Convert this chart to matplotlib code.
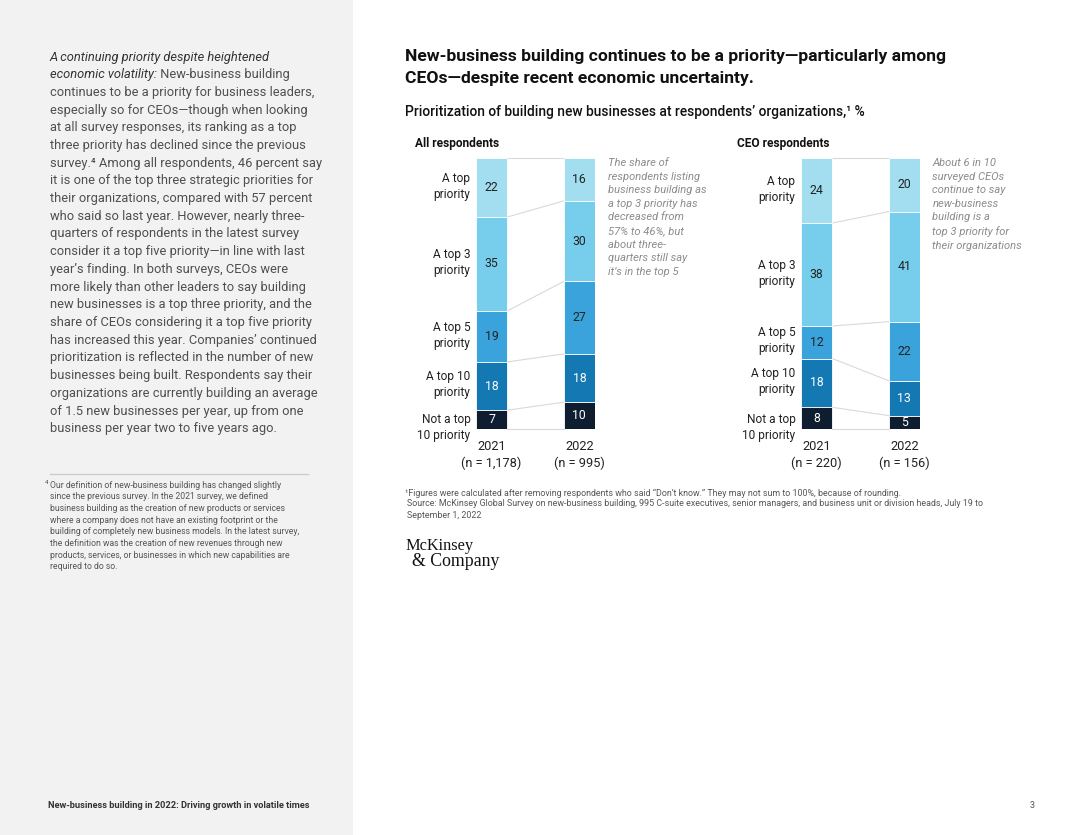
"""Recreate the McKinsey new-business-building priority page (stacked 100% bars)."""

import matplotlib

matplotlib.use("Agg")
import matplotlib.pyplot as plt
from matplotlib.patches import Rectangle

plt.rcParams["font.family"] = ["Roboto", "DejaVu Sans"]

# ---- data -------------------------------------------------------------
CATEGORIES = ["A top\npriority", "A top 3\npriority", "A top 5\npriority",
              "A top 10\npriority", "Not a top\n10 priority"]
YEARS = ["2021", "2022"]

ALL_2021 = [22, 35, 19, 18, 7]
ALL_2022 = [16, 30, 27, 18, 10]
ALL_N = ["1,178", "995"]

CEO_2021 = [24, 38, 12, 18, 8]
CEO_2022 = [20, 41, 22, 13, 5]
CEO_N = ["220", "156"]

COLORS = ["#a3def0", "#76ceec", "#3ba3dc", "#1479b3", "#0f1d30"]
TEXT_COLORS = ["#222222", "#222222", "#222222", "white", "white"]

ALL_NOTE = ("The share of\nrespondents listing\nbusiness building as\na top 3 priority has\n"
            "decreased from\n57% to 46%, but\nabout three-\nquarters still say\nit\u2019s in the top 5")
CEO_NOTE = ("About 6 in 10\nsurveyed CEOs\ncontinue to say\nnew-business\nbuilding is a\n"
            "top 3 priority for\ntheir organizations")

HEADLINE = ["New-business building continues to be a priority\u2014particularly among",
            "CEOs\u2014despite recent economic uncertainty."]

BODY_LINES = [
    "continues to be a priority for business leaders,",
    "especially so for CEOs\u2014though when looking",
    "at all survey responses, its ranking as a top",
    "three priority has declined since the previous",
    "survey.\u2074 Among all respondents, 46 percent say",
    "it is one of the top three strategic priorities for",
    "their organizations, compared with 57 percent",
    "who said so last year. However, nearly three-",
    "quarters of respondents in the latest survey",
    "consider it a top five priority\u2014in line with last",
    "year\u2019s finding. In both surveys, CEOs were",
    "more likely than other leaders to say building",
    "new businesses is a top three priority, and the",
    "share of CEOs considering it a top five priority",
    "has increased this year. Companies\u2019 continued",
    "prioritization is reflected in the number of new",
    "businesses being built. Respondents say their",
    "organizations are currently building an average",
    "of 1.5 new businesses per year, up from one",
    "business per year two to five years ago.",
]

SIDE_NOTE = [
    "Our definition of new-business building has changed slightly",
    "since the previous survey. In the 2021 survey, we defined",
    "business building as the creation of new products or services",
    "where a company does not have an existing footprint or the",
    "building of completely new business models. In the latest survey,",
    "the definition was the creation of new revenues through new",
    "products, services, or businesses in which new capabilities are",
    "required to do so.",
]

W, H = 1080, 835
BAR_W = 31 / 87


def fx(px):
    return px / W


def fy(py):
    return 1 - py / H


def draw_panel(fig, left_px, v2021, v2022, ns, note):
    ax = fig.add_axes([fx(left_px), fy(429), fx(119), 271 / H])
    ax.set_xlim(-BAR_W / 2, 1 + BAR_W / 2)
    ax.set_ylim(100, 0)
    ax.axis("off")

    tops_all = []
    for xi, vals in enumerate([v2021, v2022]):
        total = sum(vals)
        shares = [v / total * 100 for v in vals]
        bottom = 0
        tops = [0]
        for i, (v, s) in enumerate(zip(vals, shares)):
            ax.bar(xi, s, bottom=bottom, width=BAR_W, color=COLORS[i],
                   edgecolor="white", linewidth=0.6)
            ax.text(xi, bottom + s / 2, str(v), ha="center", va="center",
                    fontsize=8.8, color=TEXT_COLORS[i])
            if xi == 0:
                # the last label hangs below its thin segment, centred on the bar foot
                ly = bottom + s / 2 if i < len(vals) - 1 else 100
                ax.annotate(CATEGORIES[i], (-BAR_W / 2, ly),
                            xytext=(-4, 1), textcoords="offset points",
                            ha="right", va="center", fontsize=8.6,
                            color="#222222", linespacing=1.3,
                            annotation_clip=False)
            bottom += s
            tops.append(bottom)
        tops_all.append(tops)
        ax.annotate(f"{YEARS[xi]}\n(n = {ns[xi]})", (xi, 100), xytext=(0, -8),
                    textcoords="offset points", ha="center", va="top",
                    fontsize=9.2, color="#222222", linespacing=1.3,
                    annotation_clip=False)

    # connectors between matching segment boundaries
    for a, b in zip(tops_all[0], tops_all[1]):
        ax.plot([BAR_W / 2, 1 - BAR_W / 2], [a, b], color="#d9d9d9",
                linewidth=0.8, zorder=0, clip_on=False)

    ax.annotate(note, (1 + BAR_W / 2, 0), xytext=(9, 0),
                textcoords="offset points", ha="left", va="top",
                fontsize=8, style="italic", color="#8c8c8c",
                linespacing=1.45, annotation_clip=False)
    return ax


def main():
    fig = plt.figure(figsize=(W / 100, H / 100), dpi=100)
    page = fig.add_axes([0, 0, 1, 1])
    page.set_xlim(0, W)
    page.set_ylim(H, 0)
    page.axis("off")

    # grey side column
    page.add_patch(Rectangle((0, 0), 353, H, facecolor="#f2f2f2",
                             edgecolor="none", zorder=0))

    body_color = "#4f4f4f"
    fs_body = 9.3
    page.text(50, 57, "A continuing priority despite heightened",
              fontsize=fs_body, style="italic", color="#333333", va="center")
    lead2 = page.text(50, 74.7, "economic volatility:", fontsize=fs_body,
                      style="italic", color="#333333", va="center")
    page.annotate(" New-business building", xy=(1, 0.5), xycoords=lead2,
                  va="center", ha="left", fontsize=fs_body, color=body_color)
    for i, line in enumerate(BODY_LINES):
        page.text(50, 92.4 + i * 17.7, line, fontsize=fs_body,
                  color=body_color, va="center")

    page.plot([50, 308], [474, 474], color="#cccccc", linewidth=1)
    for i, line in enumerate(SIDE_NOTE):
        page.text(50, 485 + i * 11.7, line, fontsize=6.2, color="#555555",
                  va="center")
    page.text(45, 483, "4", fontsize=4.5, color="#555555", va="center")

    page.text(48, 805, "New-business building in 2022: Driving growth in volatile times",
              fontsize=6.7, fontweight="bold", color="#333333", va="center")
    page.text(1030, 805, "3", fontsize=6.5, color="#555555", va="center")

    # headline
    for i, line in enumerate(HEADLINE):
        page.text(405, 57 + i * 21, line, fontsize=12.6, fontweight="bold",
                  color="#111111", va="center")
    page.text(405, 112, "Prioritization of building new businesses at respondents\u2019 organizations,\u00b9 %",
              fontsize=9.9, fontweight="medium", color="#111111", va="center")

    page.text(415, 143, "All respondents", fontsize=8.6, fontweight="bold",
              color="#111111", va="center")
    page.text(737, 143, "CEO respondents", fontsize=8.6, fontweight="bold",
              color="#111111", va="center")

    draw_panel(fig, 476, ALL_2021, ALL_2022, ALL_N, ALL_NOTE)
    draw_panel(fig, 801, CEO_2021, CEO_2022, CEO_N, CEO_NOTE)

    page.text(405, 493,
              "\u00b9Figures were calculated after removing respondents who said \u201cDon\u2019t know.\u201d "
              "They may not sum to 100%, because of rounding.",
              fontsize=6.4, color="#555555", va="center")
    page.text(407, 504,
              "Source: McKinsey Global Survey on new-business building, 995 C-suite executives, "
              "senior managers, and business unit or division heads, July 19 to",
              fontsize=6.4, color="#555555", va="center")
    page.text(407, 515, "September 1, 2022", fontsize=6.4, color="#555555",
              va="center")

    serif = ["Liberation Serif", "DejaVu Serif"]
    page.text(405, 546, "McKinsey", family=serif, fontsize=11.8,
              color="#111111", va="center")
    page.text(412, 562, "& Company", family=serif, fontsize=12.8,
              color="#111111", va="center")

    fig.savefig("out.png", dpi=100)


if __name__ == "__main__":
    main()
